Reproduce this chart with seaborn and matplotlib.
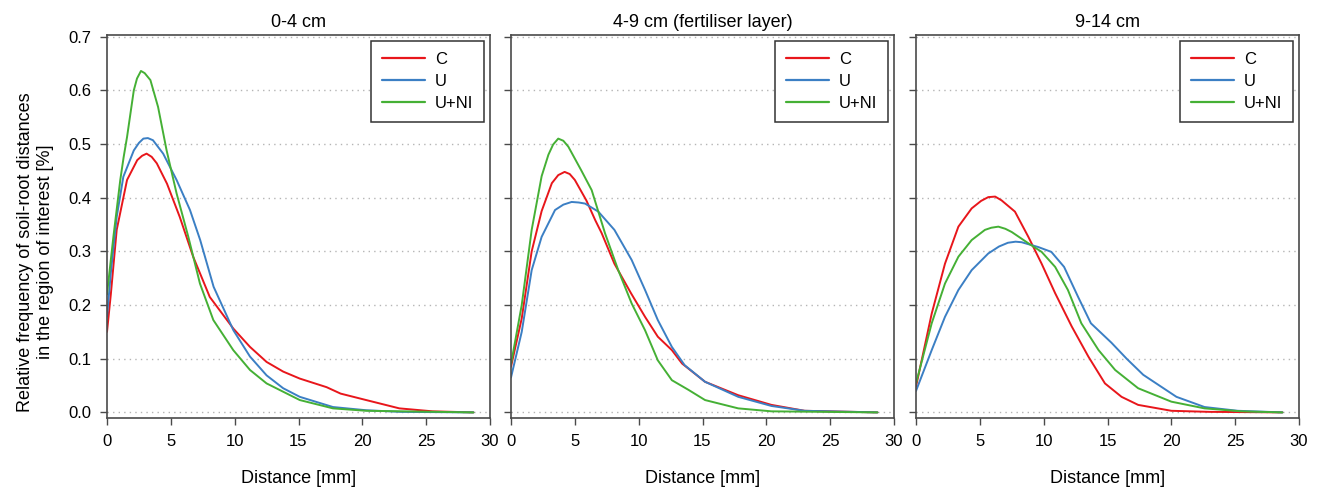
import pandas as pd
import matplotlib
matplotlib.use('Agg')
import matplotlib.pyplot as plt
import seaborn as sns

# panel titles (soil depth layers) and treatments
depths = ['0-4 cm', '4-9 cm (fertiliser layer)', '9-14 cm']
treatments = ['C', 'U', 'U+NI']
colors = {'C': '#e8161b', 'U': '#3b7fc4', 'U+NI': '#45b035'}

# 0-4 cm
d1_C_dist = [0, 0.3, 0.76, 1.57, 2.37, 2.75, 3.1, 3.5, 3.9, 4.7, 5.7, 6.75, 8.05, 9.9, 11.2, 12.5, 13.8, 15.1, 17.2, 18.3, 20.3, 22.9, 25.5, 28.7]
d1_C_freq = [0.15, 0.22, 0.34, 0.433, 0.47, 0.478, 0.482, 0.476, 0.464, 0.426, 0.364, 0.29, 0.215, 0.156, 0.122, 0.094, 0.076, 0.063, 0.047, 0.035, 0.023, 0.0075, 0.002, 0.0]
d1_U_dist = [0, 0.3, 0.76, 1.28, 2.1, 2.5, 2.85, 3.2, 3.6, 4.4, 5.45, 6.5, 7.3, 8.35, 9.9, 11.2, 12.5, 13.8, 15.1, 17.7, 20.3, 23.0, 28.7]
d1_U_freq = [0.178, 0.26, 0.364, 0.439, 0.488, 0.502, 0.51, 0.511, 0.507, 0.482, 0.433, 0.377, 0.321, 0.234, 0.153, 0.104, 0.069, 0.045, 0.029, 0.01, 0.004, 0.001, 0.0]
d1_UNI_dist = [0, 0.5, 1.04, 1.3, 1.57, 2.1, 2.35, 2.66, 2.95, 3.4, 4.0, 4.67, 5.45, 6.37, 7.28, 8.33, 9.89, 11.2, 12.5, 15.1, 17.7, 20.3, 28.7]
d1_UNI_freq = [0.22, 0.327, 0.433, 0.475, 0.513, 0.6, 0.622, 0.636, 0.632, 0.619, 0.569, 0.488, 0.408, 0.327, 0.24, 0.172, 0.116, 0.079, 0.054, 0.023, 0.0075, 0.003, 0.0]

# 4-9 cm
d2_C_dist = [0, 0.84, 1.62, 2.4, 3.2, 3.7, 4.2, 4.6, 5.0, 5.9, 6.6, 7.1, 8.1, 9.4, 10.5, 11.5, 12.6, 13.4, 15.2, 17.8, 20.4, 23.0, 28.7]
d2_C_freq = [0.085, 0.175, 0.3, 0.375, 0.427, 0.442, 0.448, 0.444, 0.433, 0.395, 0.358, 0.334, 0.277, 0.222, 0.178, 0.141, 0.116, 0.091, 0.057, 0.032, 0.014, 0.003, 0.0]
d2_U_dist = [0, 0.84, 1.62, 2.4, 3.45, 4.1, 4.75, 5.3, 5.8, 6.84, 8.1, 9.45, 10.5, 11.5, 12.6, 13.6, 15.2, 17.8, 20.4, 23.0, 28.7]
d2_U_freq = [0.065, 0.15, 0.265, 0.327, 0.377, 0.387, 0.392, 0.391, 0.389, 0.374, 0.34, 0.284, 0.228, 0.172, 0.122, 0.088, 0.057, 0.029, 0.012, 0.003, 0.0]
d2_UNI_dist = [0, 0.84, 1.62, 2.4, 2.93, 3.3, 3.7, 4.1, 4.49, 5.5, 6.32, 7.36, 8.4, 9.45, 10.5, 11.5, 12.6, 13.9, 15.2, 17.8, 20.4, 28.7]
d2_UNI_freq = [0.09, 0.2, 0.34, 0.44, 0.48, 0.499, 0.51, 0.506, 0.495, 0.451, 0.414, 0.334, 0.265, 0.203, 0.153, 0.097, 0.06, 0.042, 0.023, 0.0075, 0.002, 0.0]

# 9-14 cm
d3_C_dist = [0, 1.23, 2.27, 3.32, 4.36, 5.1, 5.66, 6.2, 6.7, 7.75, 8.8, 9.84, 10.9, 12.2, 13.5, 14.8, 16.1, 17.4, 20.0, 23.0, 28.7]
d3_C_freq = [0.048, 0.184, 0.277, 0.346, 0.38, 0.394, 0.401, 0.402, 0.395, 0.374, 0.327, 0.277, 0.222, 0.16, 0.104, 0.054, 0.029, 0.014, 0.003, 0.001, 0.0]
d3_U_dist = [0, 1.23, 2.27, 3.32, 4.36, 5.66, 6.5, 7.2, 7.8, 8.27, 9.58, 10.6, 11.6, 12.7, 13.7, 15.3, 16.5, 17.8, 20.4, 22.6, 25.2, 28.7]
d3_U_freq = [0.04, 0.116, 0.178, 0.228, 0.265, 0.296, 0.309, 0.316, 0.318, 0.317, 0.308, 0.299, 0.271, 0.215, 0.166, 0.13, 0.1, 0.07, 0.029, 0.01, 0.003, 0.0]
d3_UNI_dist = [0, 1.23, 2.27, 3.32, 4.36, 5.4, 5.9, 6.45, 7.0, 7.5, 8.8, 9.84, 10.9, 11.9, 12.95, 14.3, 15.6, 17.4, 20.0, 22.6, 25.5, 28.7]
d3_UNI_freq = [0.054, 0.166, 0.24, 0.29, 0.321, 0.34, 0.344, 0.346, 0.342, 0.336, 0.315, 0.299, 0.271, 0.228, 0.166, 0.116, 0.079, 0.045, 0.02, 0.0075, 0.002, 0.0]

series = [
    [(d1_C_dist, d1_C_freq), (d1_U_dist, d1_U_freq), (d1_UNI_dist, d1_UNI_freq)],
    [(d2_C_dist, d2_C_freq), (d2_U_dist, d2_U_freq), (d2_UNI_dist, d2_UNI_freq)],
    [(d3_C_dist, d3_C_freq), (d3_U_dist, d3_U_freq), (d3_UNI_dist, d3_UNI_freq)],
]

rows = []
for depth, panel in zip(depths, series):
    for trt, (xs, ys) in zip(treatments, panel):
        for x, y in zip(xs, ys):
            rows.append({'depth': depth, 'treatment': trt, 'dist': x, 'freq': y})
df = pd.DataFrame(rows)

sns.set_style('white')
plt.rcParams['font.family'] = ['Liberation Sans', 'DejaVu Sans']
plt.rcParams['text.color'] = 'black'
plt.rcParams['axes.labelcolor'] = 'black'
plt.rcParams['xtick.color'] = 'black'
plt.rcParams['ytick.color'] = 'black'
spine_col = '#4a4a4a'

fig = plt.figure(figsize=(13.23, 4.93), dpi=100)
lefts = [107, 511, 916]
for i, depth in enumerate(depths):
    ax = fig.add_axes([lefts[i] / 1323, 1 - 417.5 / 493, 383 / 1323, 382.5 / 493])
    sub = df[df['depth'] == depth]
    sns.lineplot(data=sub, x='dist', y='freq', hue='treatment', hue_order=treatments,
                 palette=colors, errorbar=None, linewidth=1.4, ax=ax)
    ax.set_xlim(0, 30)
    ax.set_ylim(-0.0095, 0.703)
    ax.set_xticks(range(0, 31, 5))
    ax.set_yticks([0.0, 0.1, 0.2, 0.3, 0.4, 0.5, 0.6, 0.7])
    ax.yaxis.grid(True, linestyle=(0, (1, 3)), color='#b5b5b5', linewidth=1)
    ax.set_axisbelow(True)
    for s in ax.spines.values():
        s.set_color(spine_col)
        s.set_linewidth(1.2)
    ax.tick_params(direction='out', length=5, width=1, color=spine_col,
                   labelcolor='black', labelsize=12, bottom=True, left=True)
    ax.tick_params(axis='x', pad=7)
    ax.tick_params(axis='y', pad=6)
    ax.set_title(depth, fontsize=13, pad=6)
    ax.set_xlabel('Distance [mm]', fontsize=13, labelpad=15)
    if i == 0:
        ax.set_yticklabels(['0.0', '0.1', '0.2', '0.3', '0.4', '0.5', '0.6', '0.7'])
        ax.set_ylabel('Relative frequency of soil-root distances\nin the region of interest [%]',
                      fontsize=13, linespacing=1.25)
        ax.yaxis.set_label_coords(-0.138, 0.433)
    else:
        ax.tick_params(labelleft=False)
        ax.set_ylabel('')
    leg = ax.legend(loc='upper right', fontsize=12, fancybox=False, framealpha=1,
                    edgecolor='#333333', handlelength=2.6, handletextpad=0.6,
                    labelspacing=0.42, borderpad=0.65, borderaxespad=0.35)
    leg.get_frame().set_linewidth(1.1)
    for line in leg.get_lines():
        line.set_linewidth(1.6)

fig.savefig('out.png', dpi=100)
